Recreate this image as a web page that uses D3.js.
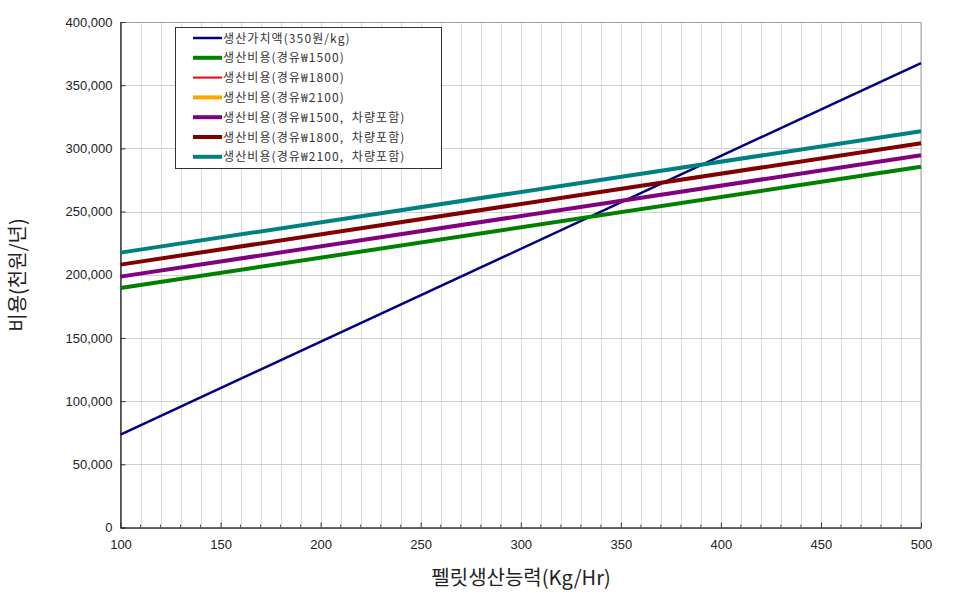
<!DOCTYPE html>
<html><head><meta charset="utf-8">
<script src="https://cdn.jsdelivr.net/npm/d3@7"></script>
<style>body{margin:0;background:#fff}svg{display:block}</style>
</head><body>
<svg id="c" width="970" height="594"></svg>
<script>
const capacity = [100, 500];
const seriesNames = ["생산가치액(350원/kg)","생산비용(경유₩1500)","생산비용(경유₩1800)","생산비용(경유₩2100)","생산비용(경유₩1500,  차량포함)","생산비용(경유₩1800,  차량포함)","생산비용(경유₩2100,  차량포함)"];
const seriesColors = ["#000080","#008000","#ff0000","#ffa500","#800080","#800000","#008080"];
const valueLine = [73500, 367500];
const cost1500 = [189500, 285500];
const cost1800 = [null, null];
const cost2100 = [null, null];
const cost1500v = [198500, 294500];
const cost1800v = [208000, 304000];
const cost2100v = [217500, 313500];
const seriesValues = [valueLine, cost1500, cost1800, cost2100, cost1500v, cost1800v, cost2100v];
const xTicks = [100,150,200,250,300,350,400,450,500];
const yTicks = [0,50000,100000,150000,200000,250000,300000,350000,400000];

const svg = d3.select("#c");
const L=120.5, R=921, T=22, B=527.5;
const x = d3.scaleLinear().domain([100,500]).range([L,R]);
const y = d3.scaleLinear().domain([0,400000]).range([B,T]);
const minor = d3.range(100,501,10);

// grid
svg.append("g").selectAll("line").data(minor).join("line")
  .attr("x1",d=>Math.round(x(d))+0.5).attr("x2",d=>Math.round(x(d))+0.5).attr("y1",T).attr("y2",B)
  .attr("stroke","#dcdcdc").attr("stroke-width",1);
svg.append("g").selectAll("line").data(yTicks).join("line")
  .attr("x1",L).attr("x2",R).attr("y1",d=>Math.round(y(d))+0.5).attr("y2",d=>Math.round(y(d))+0.5)
  .attr("stroke","#d0d0d0").attr("stroke-width",1);
svg.append("rect").attr("x",L).attr("y",T+0.5).attr("width",R-L).attr("height",B-T)
  .attr("fill","none").attr("stroke","#a0a0a0");

// axes
const fmt = d3.format(",");
const yAxis = svg.append("g").attr("transform",`translate(${L},0)`)
  .call(d3.axisLeft(y).tickValues(yTicks).tickFormat(fmt).tickSizeInner(-5).tickSizeOuter(0).tickPadding(8));
yAxis.select(".domain").attr("stroke","#000");
yAxis.selectAll("text").attr("font-family","Liberation Sans, Arial, sans-serif").attr("font-size","13px").attr("fill","#222");
yAxis.selectAll(".tick line").attr("stroke","#333");

const xAxis = svg.append("g").attr("transform",`translate(0,${B})`)
  .call(d3.axisBottom(x).tickValues(xTicks).tickFormat(d=>d).tickSizeInner(-5).tickSizeOuter(0).tickPadding(12));
xAxis.select(".domain").attr("stroke","#000");
xAxis.selectAll(".tick line").attr("stroke","#333");
xAxis.selectAll("text").attr("font-family","Liberation Sans Narrow, Liberation Sans, Arial, sans-serif").attr("font-size","13px").attr("fill","#222");
svg.append("g").selectAll("line").data(minor.filter(d=>d%50!==0)).join("line")
  .attr("x1",d=>x(d)).attr("x2",d=>x(d)).attr("y1",B).attr("y2",B-3).attr("stroke","#555");

// lines
const line = d3.line().defined(d=>d[1]!=null).x(d=>x(d[0])).y(d=>y(d[1]));
seriesValues.forEach((vals,i)=>{
  const pts = capacity.map((c,j)=>[c,vals[j]]);
  svg.append("path").datum(pts).attr("d",line).attr("fill","none")
    .attr("stroke",seriesColors[i]).attr("stroke-width", i===0?2.5:4);
});

// legend
const lg = svg.append("g");
lg.append("rect").attr("x",175.5).attr("y",27.5).attr("width",266).attr("height",141)
  .attr("fill","#fff").attr("stroke","#333");
seriesNames.forEach((n,i)=>{
  const yy = 38 + i*19.8;
  lg.append("line").attr("x1",193).attr("x2",222).attr("y1",yy).attr("y2",yy)
    .attr("stroke",seriesColors[i]).attr("stroke-width", i===0?2.5:i===2?2:4);
  lg.append("text").attr("x",223).attr("y",yy+4.5).text(n)
    .attr("xml:space","preserve").style("white-space","pre")
    .attr("font-family","Noto Sans CJK KR, sans-serif").attr("font-size","12px")
    .attr("letter-spacing","1.1px").attr("fill","#333");
});

// titles
svg.append("text").attr("transform","translate(25,275) rotate(-90)").attr("text-anchor","middle")
  .attr("font-family","Noto Sans CJK KR, sans-serif").attr("font-size","20px").attr("fill","#222").text("비용(천원/년)");
svg.append("text").attr("x",521).attr("y",585).attr("text-anchor","middle")
  .attr("font-family","Noto Sans CJK KR, sans-serif").attr("font-size","20px").attr("fill","#222").text("펠릿생산능력(Kg/Hr)");
</script>
</body></html>
